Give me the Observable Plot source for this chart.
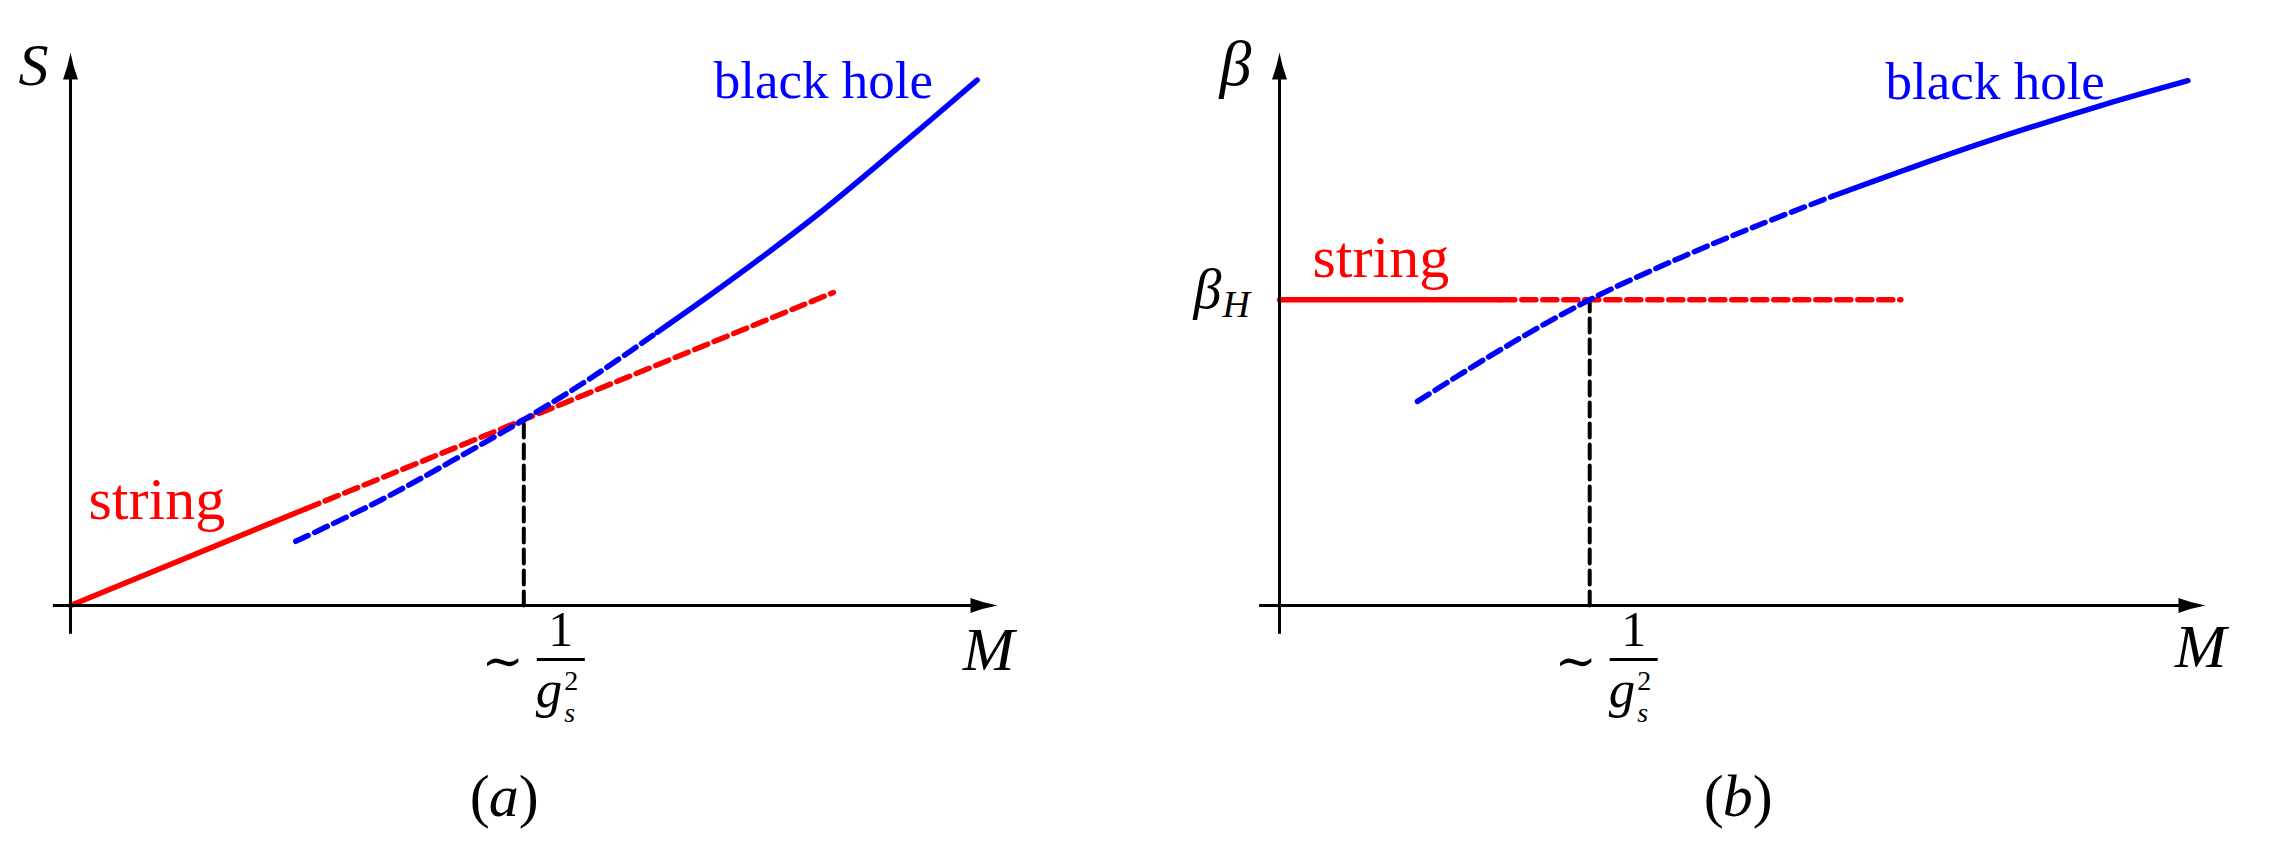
<!DOCTYPE html>
<html><head><meta charset="utf-8">
<script src="https://cdn.jsdelivr.net/npm/d3@7"></script>
<script src="https://cdn.jsdelivr.net/npm/@observablehq/plot@0.6"></script>
<style>
html,body{margin:0;padding:0;background:#fff;}
#chart{display:flex;width:2271px;height:846px;}
#chart svg{overflow:visible;}
</style></head><body><div id="chart"></div>
<script>
// ---------- Panel (a): entropy S versus mass M (arbitrary units) ----------
const stringSolidA = [[0, 0], [2.54, 1.75]];
const stringDashA  = [[2.54, 1.75], [4.89, 3.36], [8.23, 5.66]];
const holeDashA    = [[2.43, 1.16], [3.34, 1.90], [4.10, 2.60], [4.89, 3.36], [5.61, 4.11], [6.33, 4.94]];
const holeSolidA   = [[6.33, 4.94], [7.12, 5.88], [8.06, 7.07], [8.95, 8.31], [9.78, 9.50]];
const crossMA = 4.89;           // M ~ 1/g_s^2
const crossSA = 3.36;

// ---------- Panel (b): inverse temperature beta versus mass M ----------
const betaH = 5.53;
const stringSolidB = [[0, betaH], [2.39, betaH]];
const stringDashB  = [[2.39, betaH], [6.71, betaH]];
const holeDashB    = [[1.49, 3.69], [2.39, 4.63], [3.35, 5.53], [4.33, 6.29], [5.19, 6.89], [5.97, 7.40]];
const holeSolidB   = [[5.97, 7.40], [6.76, 7.88], [7.60, 8.37], [8.87, 9.04], [9.81, 9.49]];
const crossMB = 3.35;

// axes (data units) and axis-tip positions
const axisDomain = [0, 10];
const axesA = [{x1: -0.19, y1: 0, x2: 9.75, y2: 0}, {x1: 0, y1: -0.51, x2: 0, y2: 9.6}];
const axesB = [{x1: -0.22, y1: 0, x2: 9.75, y2: 0}, {x1: 0, y1: -0.51, x2: 0, y2: 9.6}];
const tips  = [{x: 10, y: 0, rotate: 90}, {x: 0, y: 10, rotate: 0}];

// text
const captions = ["(a)", "(b)"];
const axisNamesY = ["S", "β"];
const axisNameX = "M";
const stringLabel = "string";
const holeLabel = "black hole";

// ---------- helpers ----------
const SERIF = "Liberation Serif";
const RED = "#ff0000", BLUE = "#0000ff";
const latexArrow = {draw(ctx) {
  ctx.moveTo(0, 0);
  ctx.quadraticCurveTo(2.5, 14, 7.5, 27);
  ctx.lineTo(-7.5, 27);
  ctx.quadraticCurveTo(-2.5, 14, 0, 0);
  ctx.closePath();
}};
const fracBar = {draw(ctx) {
  ctx.moveTo(-24, -1.4); ctx.lineTo(24, -1.4); ctx.lineTo(24, 1.4); ctx.lineTo(-24, 1.4); ctx.closePath();
}};

function curve(data, color, dashed) {
  const o = {x: d => d[0], y: d => d[1], stroke: color, strokeWidth: 5.5, curve: "catmull-rom"};
  if (dashed) o.strokeDasharray = "14,7";
  return Plot.line(data, o);
}
function txt(anchor, s, opts) {
  return Plot.text([anchor], Object.assign({x: d => d[0], y: d => d[1], text: () => s,
    fontFamily: SERIF, lineAnchor: "bottom", fill: "black"}, opts));
}
function tickLabel(m, shift) {
  const a = [m, 0];
  return [
    txt(a, "∼", {fontFamily: "DejaVu Serif", fontSize: 50, dx: -21 + shift, dy: 72}),
    txt(a, "1", {fontSize: 50, dx: 37 + shift, dy: 40}),
    Plot.dot([a], {x: d => d[0], y: d => d[1], symbol: fracBar, fill: "black", stroke: "none", dx: 37 + shift, dy: 54}),
    txt(a, "g", {fontSize: 53, fontStyle: "italic", textAnchor: "start", dx: 12 + shift, dy: 101, className: "gs-label"})
  ];
}
function caption(a, s, dx, dy) {
  const letter = s.slice(1, -1);
  return [
    txt(a, "(", {fontSize: 60, dx: dx - 24, dy}),
    txt(a, letter, {fontSize: 60, fontStyle: "italic", dx: dx, dy}),
    txt(a, ")", {fontSize: 60, dx: dx + 25, dy})
  ];
}
function axisMarks(axes) {
  return [
    Plot.link(axes, {x1: "x1", y1: "y1", x2: "x2", y2: "y2", stroke: "black", strokeWidth: 3}),
    Plot.dot(tips, {x: "x", y: "y", rotate: "rotate", symbol: latexArrow, fill: "black", stroke: "none"})
  ];
}
function crossLine(m, v) {
  return Plot.line([[m, 0], [m, v]], {x: d => d[0], y: d => d[1], stroke: "black", strokeWidth: 4, strokeDasharray: "14,7"});
}

// ---------- panel (a) ----------
const plotA = Plot.plot({
  width: 1135, height: 846,
  marginLeft: 70, marginRight: 138, marginTop: 52, marginBottom: 241,
  x: {domain: axisDomain, axis: null},
  y: {domain: axisDomain, axis: null},
  style: {background: "white", overflow: "visible"},
  marks: [
    crossLine(crossMA, crossSA),
    curve(stringDashA, RED, true),
    curve(holeDashA, BLUE, true),
    curve(stringSolidA, RED, false),
    curve(holeSolidA, BLUE, false),
    ...axisMarks(axesA),
    txt([0, 10], axisNamesY[0], {fontSize: 60, fontStyle: "italic", dx: -37, dy: 32}),
    txt([10, 0], axisNameX, {fontSize: 62, fontStyle: "italic", dx: -9, dy: 64}),
    txt(stringSolidA[0], stringLabel, {fontSize: 60, fill: RED, textAnchor: "start", dx: 18, dy: -87}),
    txt(holeSolidA[holeSolidA.length - 1], holeLabel, {fontSize: 53, fill: BLUE, textAnchor: "end", dx: -44, dy: 18}),
    ...tickLabel(crossMA, 0),
    ...caption([crossMA, 0], captions[0], -20, 210)
  ]
});

// ---------- panel (b) ----------
const plotB = Plot.plot({
  width: 1136, height: 846,
  marginLeft: 144, marginRight: 66, marginTop: 52, marginBottom: 241,
  x: {domain: axisDomain, axis: null},
  y: {domain: axisDomain, axis: null},
  style: {background: "white", overflow: "visible"},
  marks: [
    crossLine(crossMB, betaH),
    curve(stringDashB, RED, true),
    curve(holeDashB, BLUE, true),
    curve(stringSolidB, RED, false),
    curve(holeSolidB, BLUE, false),
    ...axisMarks(axesB),
    txt([0, 10], axisNamesY[1], {fontSize: 64, fontStyle: "italic", dx: -44, dy: 32}),
    txt([10, 0], axisNameX, {fontSize: 62, fontStyle: "italic", dx: -5, dy: 61}),
    txt([0, betaH], "β", {fontSize: 56, fontStyle: "italic", dx: -72, dy: 8}),
    txt([0, betaH], "H", {fontSize: 38, fontStyle: "italic", textAnchor: "start", dx: -57, dy: 17}),
    txt(stringSolidB[0], stringLabel, {fontSize: 60, fill: RED, textAnchor: "start", dx: 33, dy: -23}),
    txt(holeSolidB[holeSolidB.length - 1], holeLabel, {fontSize: 53, fill: BLUE, textAnchor: "end", dx: -83, dy: 18}),
    ...tickLabel(crossMB, 7),
    ...caption([crossMB, 0], captions[1], 148, 210)
  ]
});

document.getElementById("chart").append(plotA, plotB);

// g_s^2 : superscript and subscript as tspans of the same text element
d3.selectAll(".gs-label text").each(function() {
  const t = d3.select(this);
  t.append("tspan").attr("dx", 2).attr("dy", -17).attr("font-size", 28).attr("font-style", "normal").text("2");
  t.append("tspan").attr("dx", -14).attr("dy", 32).attr("font-size", 28).text("s");
});
</script>
</body></html>
